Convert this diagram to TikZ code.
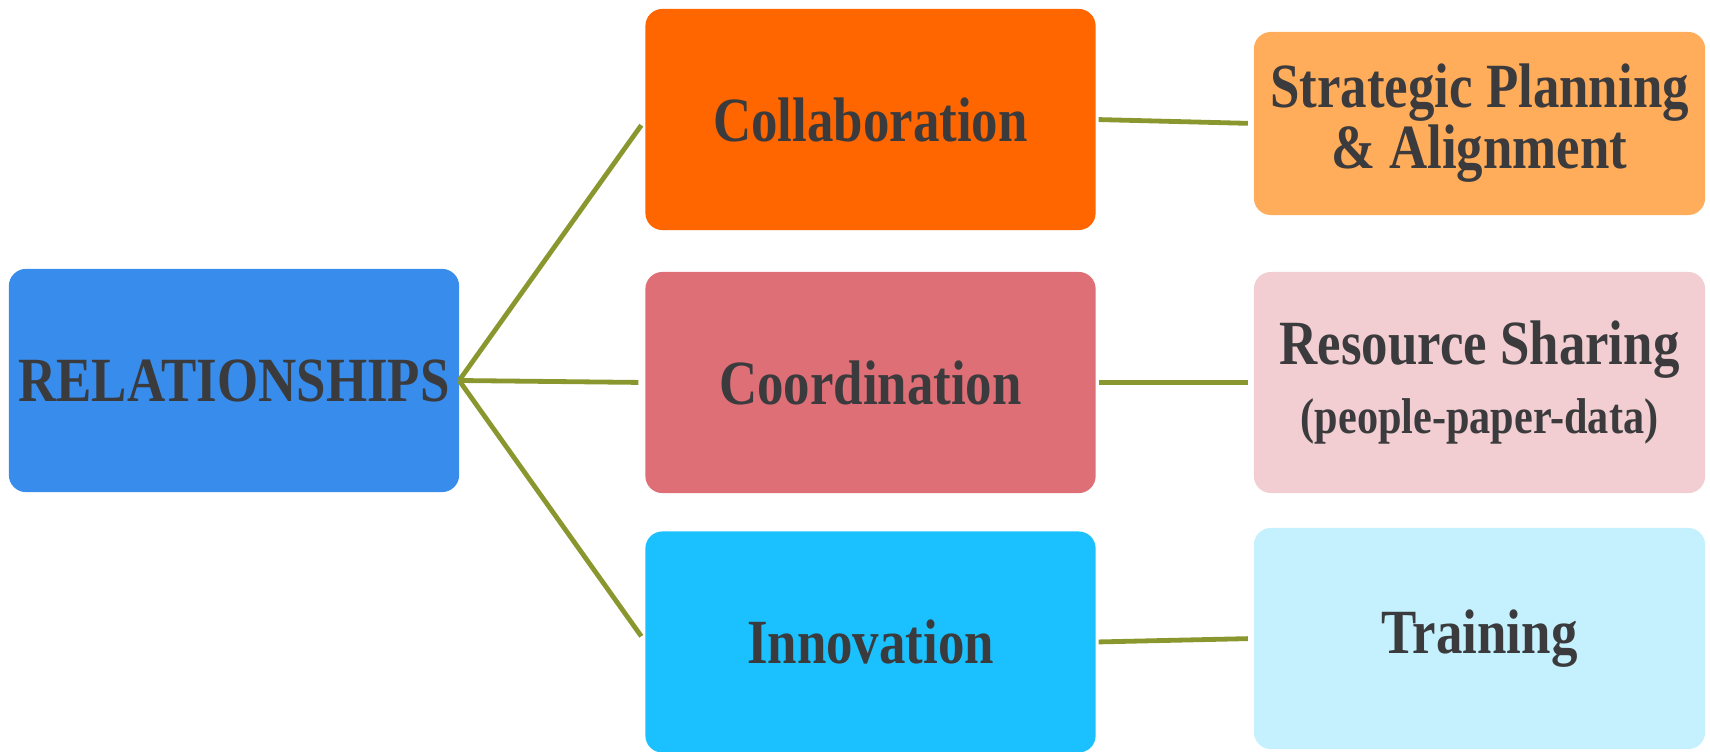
\documentclass[tikz,border=0pt]{standalone}
\usepackage{fontspec}
\setmainfont{Liberation Serif}[FakeStretch=0.84]

\definecolor{relblue}{HTML}{388CEB}
\definecolor{collabfill}{HTML}{FF6600}
\definecolor{coordfill}{HTML}{DE6F76}
\definecolor{innovfill}{HTML}{1BC1FF}
\definecolor{stratfill}{HTML}{FFAC5B}
\definecolor{sharefill}{HTML}{F2CED2}
\definecolor{trainfill}{HTML}{C4F1FD}
\definecolor{txtgray}{HTML}{3B3B3D}
\definecolor{linkolive}{HTML}{8A972E}

\begin{document}
\begin{tikzpicture}[x=0.01cm,y=-0.01cm,
  every node/.style={font=\bfseries\fontsize{17.9}{15.8}\selectfont,text=txtgray},
  box/.style={rounded corners=0.17cm,inner sep=0pt,outer sep=0pt,align=center,
    minimum width=4.5cm,minimum height=2.21cm},
  link/.style={draw=linkolive,line width=0.048cm}]
  \useasboundingbox (0,0) rectangle (1710,752);

  % root
  \node[box,fill=relblue,minimum height=2.23cm] (rel) at (234,380.5) {RELATIONSHIPS};

  % middle column
  \node[box,fill=collabfill] (collab) at (870.5,119.5) {Collaboration};
  \node[box,fill=coordfill] (coord) at (870.5,382.5) {Coordination};
  \node[box,fill=innovfill] (innov) at (870.5,642) {Innovation};

  % right column
  \node[box,fill=stratfill,minimum width=4.51cm,minimum height=1.83cm] (strat) at (1479.5,123.5)
    {Strategic Planning\\\& Alignment};
  \node[box,fill=sharefill,minimum width=4.51cm,font=\bfseries\fontsize{17.9}{19.4}\selectfont] (share) at (1479.5,382.5)
    {Resource Sharing\\{\fontsize{14.3}{17}\selectfont(people-paper-data)}};
  \node[box,fill=trainfill,minimum width=4.51cm] (train) at (1479.5,638.5) {Training};

  % branches
  \draw[link,shorten >=0.07cm] (rel.east) -- (collab.west);
  \draw[link,shorten >=0.07cm] (rel.east) -- (coord.west);
  \draw[link,shorten >=0.07cm] (rel.east) -- (innov.west);

  \draw[link,shorten <=0.03cm,shorten >=0.06cm] (collab.east) -- (strat.west);
  \draw[link,shorten <=0.03cm,shorten >=0.06cm] (coord.east) -- (share.west);
  \draw[link,shorten <=0.03cm,shorten >=0.06cm] (innov.east) -- (train.west);
\end{tikzpicture}
\end{document}
